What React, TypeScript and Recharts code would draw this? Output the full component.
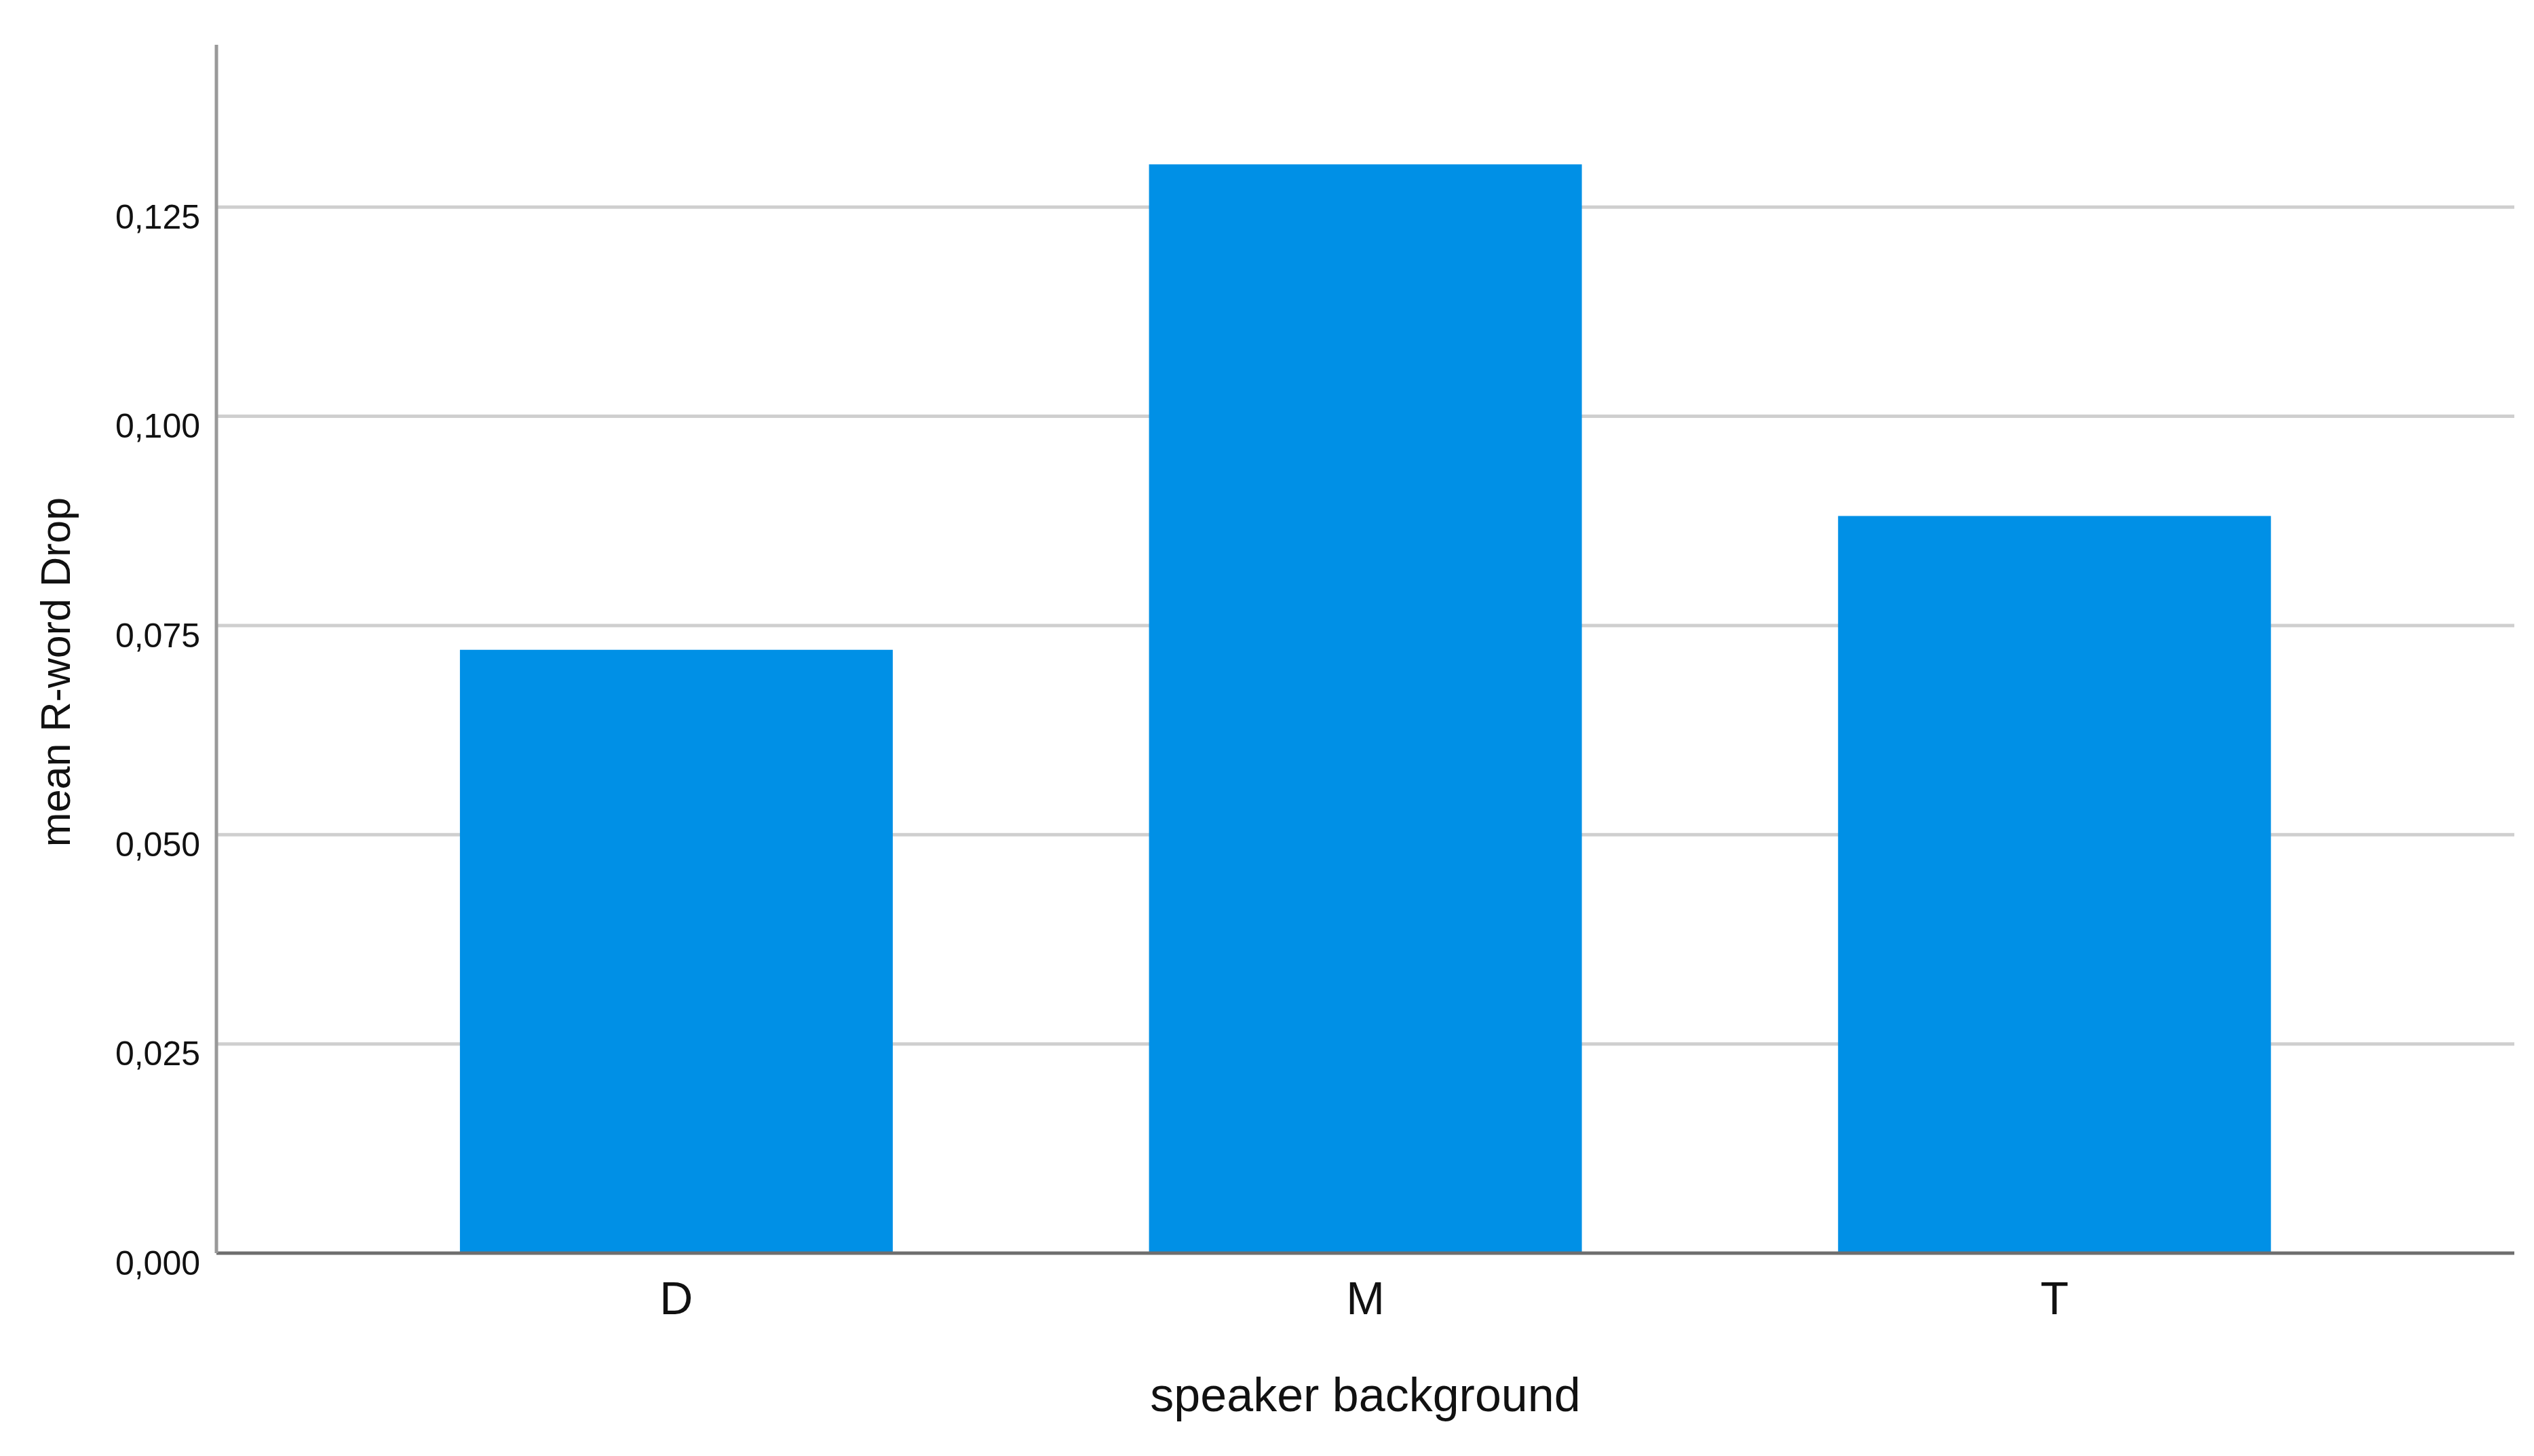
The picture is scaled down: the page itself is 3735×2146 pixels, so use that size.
import { BarChart, Bar, XAxis, YAxis, CartesianGrid, Label } from 'recharts'

document.body.style.margin = '0'

const CATEGORIES = ['D', 'M', 'T']
const MEAN_DROP = [0.0721, 0.1301, 0.0881]
const Y_TICKS = [0, 0.025, 0.05, 0.075, 0.1, 0.125]

const data = CATEGORIES.map((c, i) => ({ background: c, drop: MEAN_DROP[i] }))

const FONT = '"Liberation Sans", Arial, sans-serif'

const fmt = (v: number) => v.toFixed(3).replace('.', ',')

export default function App() {
  return (
    <div style={{ width: 3735, height: 2146, background: '#fff', fontFamily: FONT }}>
      <BarChart width={3735} height={2146} data={data} margin={{ top: 66, right: 29, left: 0, bottom: 0 }} barCategoryGap="18.6%">
        <CartesianGrid vertical={false} horizontal={true} syncWithTicks stroke="#cfcfcf" strokeWidth={5} horizontalValues={Y_TICKS.slice(1)} />
        <XAxis
          dataKey="background"
          height={299}
          padding={{ left: 170, right: 170 }}
          tickLine={false}
          tickSize={0}
          tickMargin={42}
          axisLine={{ stroke: '#6e6e6e', strokeWidth: 5 }}
          tick={{ fontSize: 68, fill: '#111', fontFamily: FONT }}
        >
          <Label value="speaker background" position="insideBottom" offset={66} style={{ fontSize: 70, fill: '#111', fontFamily: FONT }} />
        </XAxis>
        <YAxis
          width={319}
          domain={[0, 0.1444]}
          ticks={Y_TICKS}
          interval={0}
          tickLine={false}
          tickSize={0}
          tickMargin={24}
          axisLine={{ stroke: '#999', strokeWidth: 5 }}
          tickFormatter={fmt}
          tick={{ fontSize: 50, fill: '#111', fontFamily: FONT, dy: 14 }}
        >
          <Label
            content={({ viewBox }: any) => {
              const x = viewBox.x + 82
              const y = viewBox.y + viewBox.height / 2 + 34
              return (
                <text x={x} y={y} transform={`rotate(-90 ${x} ${y})`} textAnchor="middle" dominantBaseline="central" fontSize={61} fill="#111" fontFamily={FONT}>
                  mean R-word Drop
                </text>
              )
            }}
          />
        </YAxis>
        <Bar dataKey="drop" fill="#0090e6" isAnimationActive={false} />
      </BarChart>
    </div>
  )
}
